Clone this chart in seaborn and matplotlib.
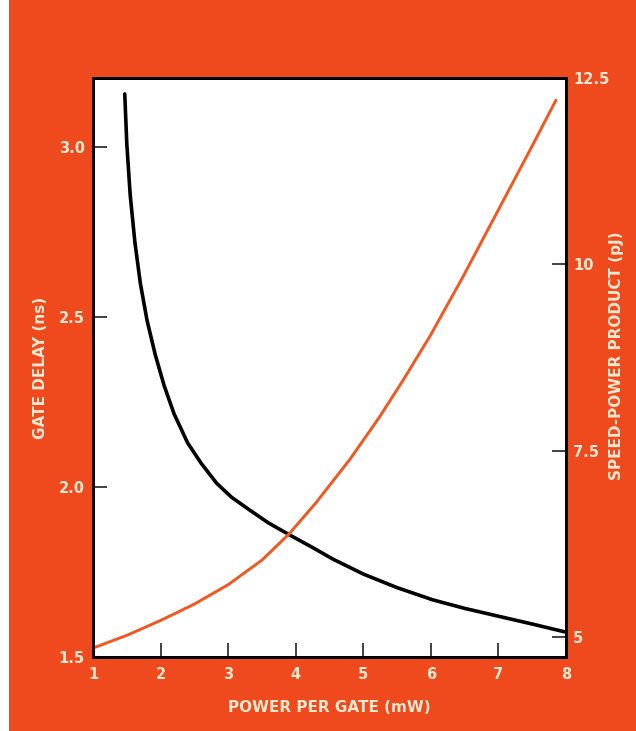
import matplotlib
matplotlib.use("Agg")
import matplotlib.pyplot as plt
import seaborn as sns
import pandas as pd
from matplotlib.patches import Rectangle

# Gate delay (ns) versus power per gate (mW)
delay_power = [1.47, 1.50, 1.55, 1.62, 1.70, 1.80, 1.92, 2.05, 2.20, 2.40,
               2.60, 2.83, 3.05, 3.32, 3.60, 3.91, 4.25, 4.55, 5.00, 5.50,
               6.03, 6.50, 7.02, 7.50, 7.98]
delay_ns = [3.156, 3.010, 2.860, 2.720, 2.600, 2.490, 2.390, 2.300, 2.215,
            2.130, 2.070, 2.011, 1.970, 1.932, 1.894, 1.859, 1.822, 1.788,
            1.744, 1.704, 1.668, 1.643, 1.619, 1.597, 1.574]

# Speed-power product (pJ) versus power per gate (mW)
spp_power = [1.00, 1.50, 2.00, 2.50, 3.00, 3.50, 3.90, 4.30, 4.80, 5.24,
             5.60, 5.99, 6.48, 6.97, 7.46, 7.85]
spp_pj = [4.85, 5.02, 5.22, 5.44, 5.70, 6.03, 6.38, 6.80, 7.38, 7.95,
          8.46, 9.04, 9.84, 10.68, 11.52, 12.20]

x_ticks = [1, 2, 3, 4, 5, 6, 7, 8]
left_ticks = [1.5, 2.0, 2.5, 3.0]
left_tick_labels = ["1.5", "2.0", "2.5", "3.0"]
right_ticks = [5, 7.5, 10, 12.5]
right_tick_labels = ["5", "7.5", "10", "12.5"]

BG = "#EE4A1E"
TXT = "#FBE8CF"
ORANGE = "#F4561F"

sns.set_style("ticks")
plt.rcParams["font.family"] = ["DejaVu Sans"]
plt.rcParams["font.weight"] = "bold"

fig = plt.figure(figsize=(6.36, 7.31), dpi=100, facecolor=BG)
fig.patches.append(Rectangle((0, 0), 9 / 636, 1, transform=fig.transFigure,
                             facecolor="white", edgecolor="none", zorder=0))

ax = fig.add_axes([93 / 636, 74 / 731, 473 / 636, 579 / 731])
ax.set_facecolor("white")

df_delay = pd.DataFrame({"power": delay_power, "delay": delay_ns})
df_spp = pd.DataFrame({"power": spp_power, "spp": spp_pj})

sns.lineplot(data=df_delay, x="power", y="delay", ax=ax, color="black",
             linewidth=2.6, sort=True, estimator=None)
ax.set_xlim(1, 8)
ax.set_ylim(1.5, 3.203)

ax2 = ax.twinx()
sns.lineplot(data=df_spp, x="power", y="spp", ax=ax2, color=ORANGE,
             linewidth=2.1, sort=True, estimator=None)
ax2.set_ylim(4.73, 12.5)

for line in ax.get_lines() + ax2.get_lines():
    line.set_solid_joinstyle("round")
    line.set_solid_capstyle("round")

ax.set_xticks(x_ticks)
ax.set_xticklabels([str(v) for v in x_ticks])
ax.set_yticks(left_ticks)
ax.set_yticklabels(left_tick_labels)
ax2.set_yticks(right_ticks)
ax2.set_yticklabels(right_tick_labels)

for a in (ax, ax2):
    for s in a.spines.values():
        s.set_visible(True)
        s.set_color("black")
        s.set_linewidth(2)
    a.tick_params(direction="in", length=10, width=1.3, color="#333333",
                  labelcolor=TXT, labelsize=10.5)
ax.tick_params(axis="x", pad=7)
ax.tick_params(axis="y", pad=6)
ax2.tick_params(axis="y", pad=5)

ax.set_xlabel("POWER PER GATE (mW)", color=TXT, fontsize=11, fontweight="bold")
ax.set_ylabel("GATE DELAY (ns)", color=TXT, fontsize=11, fontweight="bold")
ax2.set_ylabel("SPEED-POWER PRODUCT (pJ)", color=TXT, fontsize=11,
               fontweight="bold", rotation=90)
ax.xaxis.set_label_coords(0.5, -0.075)
ax.yaxis.set_label_coords(-0.112, 0.5)
ax2.yaxis.set_label_coords(1.107, 0.52)
ax2.yaxis.label.set_va("center")
ax.yaxis.label.set_va("center")

fig.savefig("out.png", dpi=100, facecolor=BG)
